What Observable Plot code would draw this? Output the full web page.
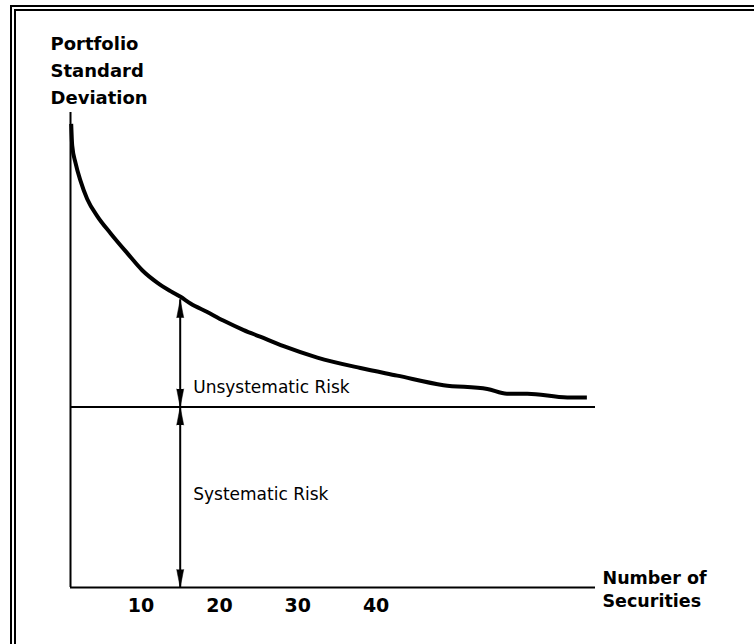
<!DOCTYPE html>
<html>
<head>
<meta charset="utf-8">
<script src="https://cdn.jsdelivr.net/npm/d3@7"></script>
<script src="https://cdn.jsdelivr.net/npm/@observablehq/plot@0.6"></script>
<style>
  html, body { margin: 0; padding: 0; background: #fff; overflow: hidden; }
  #wrap { position: relative; width: 754px; height: 644px; overflow: hidden; }
  #border { position: absolute; left: 10px; top: 5px; width: 2000px; height: 2000px;
            border-left: 6px double #000; border-top: 6px double #000; box-sizing: border-box; }
  #chart { position: absolute; left: 0; top: 0; }
</style>
</head>
<body>
<div id="wrap"><div id="border"></div><div id="chart"></div></div>
<script>
// Number of securities (x) and portfolio standard deviation (y)
const securities = [1.09, 1.22, 1.64, 2.28, 3.13, 4.41, 6.1, 8.24, 10.15, 12.06, 13.76, 15.04, 16.31, 18.45, 20.5, 23.1, 25.2, 28.2, 32.5, 38.0, 42.7, 48.6, 54.2, 56.7, 59.3, 64.4, 66.9];
const stdDev     = [48.8, 46.5, 44.7, 42.8, 40.9, 39.1, 37.3, 35.2, 33.4, 32.1, 31.2, 30.6, 29.9, 29.0, 28.1, 27.1, 26.4, 25.4, 24.2, 23.1, 22.3, 21.3, 20.9, 20.4, 20.4, 20.0, 20.0];
const systematicLevel = 19;
const arrowX = 15;
const arrowTop = 30.3;
const tickValues = [10, 20, 30, 40];
const riskLabels = ["Unsystematic Risk", "Systematic Risk"];
const riskLabelY = [20.5, 9.2];
const yLabel = "Portfolio\nStandard\nDeviation";
const xLabel = "Number of\nSecurities";
const headTips = [arrowTop, systematicLevel, systematicLevel, 0];
const headDirs = [0, 180, 0, 180];

const curve = securities.map((x, i) => ({x, y: stdDev[i]}));
const labels = riskLabels.map((t, i) => ({t, y: riskLabelY[i]}));
const heads = headTips.map((y, i) => ({y, r: headDirs[i]}));

const chart = Plot.plot({
  width: 754,
  height: 644,
  marginLeft: 70,
  marginRight: 159,
  marginTop: 112,
  marginBottom: 57,
  style: {fontFamily: "DejaVu Sans", background: "transparent", color: "#000"},
  x: {domain: [1, 68]},
  y: {domain: [0, 50], axis: null},
  marks: [
    Plot.ruleY([0], {stroke: "#000", strokeWidth: 2}),
    Plot.ruleX([1], {y1: 0, y2: 50, stroke: "#000", strokeWidth: 2}),
    Plot.ruleY([systematicLevel], {stroke: "#000", strokeWidth: 2}),
    Plot.ruleX([arrowX], {y1: 0, y2: arrowTop, stroke: "#000", strokeWidth: 2}),
    Plot.vector(heads, {x: arrowX, y: "y", rotate: "r", length: 18, r: 3.5, shape: "spike", anchor: "end", fill: "#000", stroke: "#000", strokeWidth: 0.5}),
    Plot.line(curve, {x: "x", y: "y", stroke: "#000", strokeWidth: 4, curve: "monotone-x", strokeLinecap: "butt"}),
    Plot.text(labels, {x: arrowX, y: "y", text: "t", dx: 13, textAnchor: "start", lineAnchor: "bottom", fontSize: 17, fill: "#000"}),
    Plot.text([yLabel], {text: d => d, frameAnchor: "top-left", dx: -20, dy: -82, textAnchor: "start", lineAnchor: "top", fontSize: 18, fontWeight: "bold", lineHeight: 1.5, fill: "#000"}),
    Plot.text([xLabel], {text: d => d, frameAnchor: "bottom-right", dx: 7, dy: -19.4, textAnchor: "start", lineAnchor: "top", fontSize: 17.5, fontWeight: "bold", lineHeight: 1.3, fill: "#000"}),
    Plot.axisX({ticks: tickValues, tickSize: 0, tickPadding: 11, fontSize: 19, fontWeight: "bold", label: null, fill: "#000"})
  ]
});
document.getElementById("chart").appendChild(chart);
</script>
</body>
</html>
